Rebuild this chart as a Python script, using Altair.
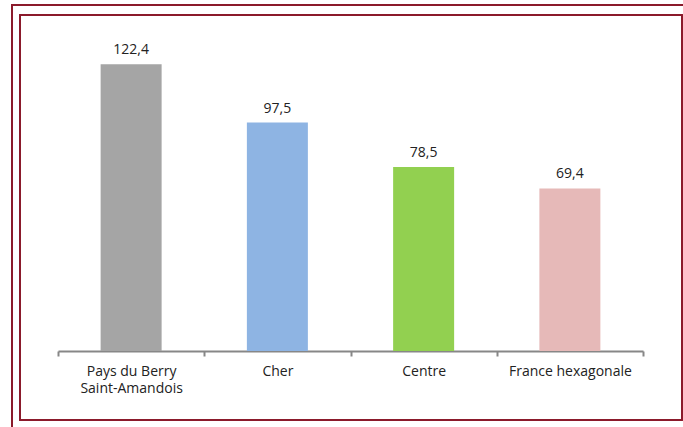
import altair as alt
import pandas as pd

# Territories and their values
territoires = ["Pays du Berry\nSaint-Amandois", "Cher", "Centre", "France hexagonale"]
valeurs = [122.4, 97.5, 78.5, 69.4]
couleurs = ["#A5A5A5", "#8EB4E3", "#92D050", "#E6B9B8"]

df = pd.DataFrame({
    "territoire": territoires,
    "valeur": valeurs,
    "couleur": couleurs,
})
df["etiquette"] = [f"{v:.1f}".replace(".", ",") for v in valeurs]

FONT = "Open Sans"
FRAME = "#8B1A2B"

x = alt.X(
    "territoire:N",
    sort=territoires,
    scale=alt.Scale(paddingInner=0, paddingOuter=0),
    axis=alt.Axis(
        title=None,
        labelAngle=0,
        labelExpr="split(datum.label, '\\n')",
        labelFont=FONT,
        labelFontSize=14,
        labelColor="#222222",
        labelPadding=8,
        labelLineHeight=17,
        domainColor="#878787",
        domainWidth=2,
        tickColor="#878787",
        tickWidth=2,
        tickSize=5,
        tickBand="extent",
    ),
)
y = alt.Y(
    "valeur:Q",
    scale=alt.Scale(domain=[0, 140]),
    axis=None,
)

bars = alt.Chart(df).mark_bar(size=61).encode(
    x=x,
    y=y,
    color=alt.Color("couleur:N", scale=None),
)

labels = alt.Chart(df).mark_text(
    baseline="bottom", dy=-7, font=FONT, fontSize=14, color="#222222"
).encode(
    x=alt.X("territoire:N", sort=territoires),
    y=y,
    text="etiquette:N",
)

# Double decorative frame around the chart
outer = alt.Chart(df).mark_rect(
    fill=None, stroke=FRAME, strokeWidth=2
).encode(
    x=alt.value(-46), x2=alt.value(700), y=alt.value(-18), y2=alt.value(450)
)
inner = alt.Chart(df).mark_rect(
    fill=None, stroke=FRAME, strokeWidth=1.5
).encode(
    x=alt.value(-38), x2=alt.value(624), y=alt.value(-8), y2=alt.value(397)
)

chart = alt.layer(outer, inner, bars, labels).properties(
    width=585,
    height=328,
    autosize=alt.AutoSizeParams(type="none"),
    padding={"left": 58, "top": 23, "right": 40, "bottom": 76},
    background="white",
).configure_view(stroke=None)

chart.save("out.html", embed_options={"renderer": "svg", "actions": False})
